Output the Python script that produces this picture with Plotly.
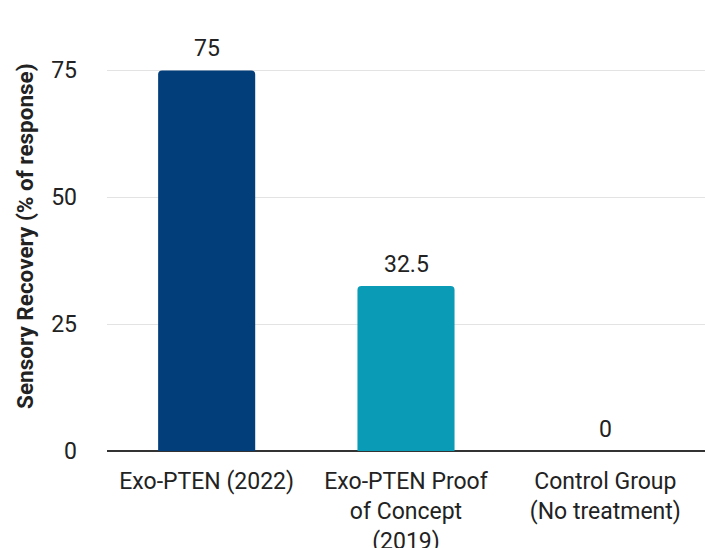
import plotly.graph_objects as go

categories = ["Exo-PTEN (2022)", "Exo-PTEN Proof<br>of Concept<br>(2019)", "Control Group<br>(No treatment)"]
values = [75, 32.5, 0]
value_labels = ["75", "32.5", "0"]
bar_colors = ["#023e7a", "#0a9bb7", "#7fc3d4"]
y_ticks = [0, 25, 50, 75]
y_title = "Sensory Recovery (% of response)"

fig = go.Figure()
fig.add_trace(go.Bar(
    x=categories, y=values,
    marker=dict(color=bar_colors, line=dict(width=0)),
    hoverinfo="x+y",
))

for c, v, t in zip(categories, values, value_labels):
    fig.add_annotation(x=c, y=v, text=t, showarrow=False, xref="x", yref="y",
                       yanchor="bottom", yshift=6,
                       font=dict(family="Roboto", size=23, color="#222222"))

fig.add_annotation(xref="paper", yref="paper", x=-0.137, y=0.53, text="<b>" + y_title + "</b>",
                   textangle=-90, showarrow=False, xanchor="center", yanchor="middle",
                   font=dict(family="Roboto", size=22.5, color="#222222"))

fig.update_layout(
    width=705, height=548,
    margin=dict(l=107, r=0, t=45, b=97, autoexpand=False),
    paper_bgcolor="white", plot_bgcolor="white",
    showlegend=False,
    bargap=0.513,
    barcornerradius=4,
    font=dict(family="Roboto", size=23, color="#222222"),
    xaxis=dict(showgrid=False, showline=False, ticks="", tickfont=dict(size=23, color="#222222"),
               ticklabelstandoff=14, automargin=False),
    yaxis=dict(range=[0, 80], tickvals=y_ticks, ticktext=[str(t) for t in y_ticks],
               showgrid=True, gridcolor="#e3e3e3", gridwidth=1,
               zeroline=True, zerolinecolor="#333333", zerolinewidth=2,
               ticks="", ticklabelstandoff=29, tickfont=dict(size=23, color="#222222"),
               showline=False, automargin=False),
)

fig.write_html("out.html")
